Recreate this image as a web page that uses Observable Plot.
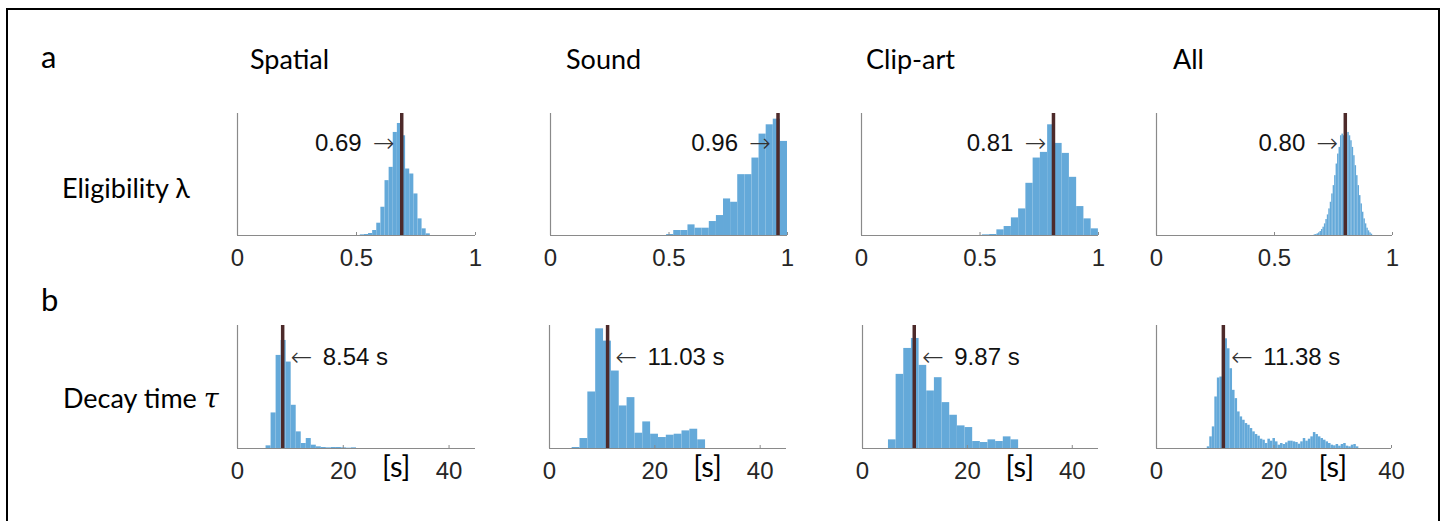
<!DOCTYPE html>
<html><head><meta charset="utf-8">
<script src="https://cdn.jsdelivr.net/npm/d3@7"></script>
<script src="https://cdn.jsdelivr.net/npm/@observablehq/plot@0.6"></script>
<style>
body{margin:0;background:#fff;width:1444px;height:521px;overflow:hidden;position:relative;}
#frame{position:absolute;left:6px;top:8px;width:1434px;height:600px;border:2px solid #000;box-sizing:border-box;}
.lbl{position:absolute;font-family:Lato,"Open Sans",sans-serif;color:#000;white-space:nowrap;line-height:1;transform:translateY(-50%);}
.panel{position:absolute;}
.panel svg{overflow:visible;}
</style></head><body>
<div id="frame"></div>
<div id="root"></div>
<script>
// ---- data ----
const conditions = ["Spatial", "Sound", "Clip-art", "All"];
const rowLabels = ["Eligibility λ", "Decay time τ"];
const panelLetters = ["a", "b"];
const lambdaTicks = [0, 0.5, 1];
const tauTicks = [0, 20, 40];
const lambdaEstimates = [0.69, 0.96, 0.81, 0.80];
const tauEstimates = [8.54, 11.03, 9.87, 11.38];

// histogram bins: start, bin width, heights (relative frequency, arbitrary units)
const lambdaSpatialStart = 0.516, lambdaSpatialWidth = 0.0173;
const lambdaSpatialCounts = [2,3,6,15,37,85,165,205,310,337,300,200,185,125,50,20,5];
const lambdaSoundStart = 0.49, lambdaSoundWidth = 0.03;
const lambdaSoundCounts = [3,15,15,32,22,22,42,60,110,100,183,183,233,305,333,350,283];
const lambdaClipStart = 0.51, lambdaClipWidth = 0.0306;
const lambdaClipCounts = [2,3,17,27,53,80,157,233,250,333,277,247,175,87,50,20];
const lambdaAllStart = 0.668, lambdaAllWidth = 0.0062;
const lambdaAllCounts = [2,3,5,8,12,18,25,35,48,62,80,100,125,150,180,215,245,265,300,305,
  300,310,305,310,300,285,265,240,210,180,150,120,95,70,50,35,22,14,8,4];
const tauSpatialStart = 5.4, tauSpatialWidth = 0.95;
const tauSpatialCounts = [8,107,280,325,260,130,50,15,30,10,5,3,2,3,3,2,1,2];
const tauSoundStart = 4.3, tauSoundWidth = 1.49;
const tauSoundCounts = [3,30,170,360,323,233,128,153,46,80,43,33,40,43,53,58,26];
const tauClipStart = 4.95, tauClipWidth = 1.46;
const tauClipCounts = [26,223,301,331,250,173,213,138,100,68,63,21,18,26,21,35,26];
const tauAllStart = 8.64, tauAllWidth = 0.43;
const tauAllCounts = [5,35,65,155,212,215,300,330,300,240,175,150,110,95,85,75,70,60,50,42,
  37,28,25,15,28,22,30,20,10,15,12,17,22,22,20,18,13,20,30,22,
  28,35,48,42,35,30,25,20,15,10,8,12,7,12,15,7,5,10,12,5];
const lambdaYTop = 367, tauYTop = 370;
const lambdaDomains = [[0,1],[0,1],[0,1],[0,1]];
const tauDomains = [[0,45],[0,45],[0,45],[0,40]];

// ---- layout ----
const colX = [[237,475],[550,787],[861,1098],[1156,1392]];
const colXb = [[237,475],[549,786],[862,1098],[1156,1391]];
const rowTop = [113, 325], rowBase = [235, 448];

const lambdaHists = [
  [lambdaSpatialStart, lambdaSpatialWidth, lambdaSpatialCounts],
  [lambdaSoundStart, lambdaSoundWidth, lambdaSoundCounts],
  [lambdaClipStart, lambdaClipWidth, lambdaClipCounts],
  [lambdaAllStart, lambdaAllWidth, lambdaAllCounts]];
const tauHists = [
  [tauSpatialStart, tauSpatialWidth, tauSpatialCounts],
  [tauSoundStart, tauSoundWidth, tauSoundCounts],
  [tauClipStart, tauClipWidth, tauClipCounts],
  [tauAllStart, tauAllWidth, tauAllCounts]];

const root = document.getElementById("root");
function label(text, x, cy, size, html) {
  const d = document.createElement("div");
  d.className = "lbl";
  if (html) d.innerHTML = text; else d.textContent = text;
  d.style.left = x + "px"; d.style.top = cy + "px"; d.style.fontSize = size + "px";
  root.appendChild(d);
}
label(panelLetters[0], 41, 56, 31);
label(panelLetters[1], 41, 299, 31);
const titleX = [250, 566, 866, 1173];
conditions.forEach((c, i) => label(c, titleX[i], 58, 27));
label(rowLabels[0], 62, 187, 27);
label("Decay time <i style=\"font-family:'DejaVu Serif'\">τ</i>", 63, 398, 27, true);

function panel(row, i) {
  const [start, w, counts] = row === 0 ? lambdaHists[i] : tauHists[i];
  const domain = row === 0 ? lambdaDomains[i] : tauDomains[i];
  const ticks = row === 0 ? lambdaTicks : tauTicks;
  const value = row === 0 ? lambdaEstimates[i] : tauEstimates[i];
  const yTop = row === 0 ? lambdaYTop : tauYTop;
  const [x0, x1] = row === 0 ? colX[i] : colXb[i];
  const top = rowTop[row], base = rowBase[row];
  const ML = 20, MR = 30, MT = 30, MB = 50;
  const bins = counts.map((c, k) => ({a: start + k * w, b: start + (k + 1) * w, c}));
  const px = yTop / (base - top);
  const dyText = row === 0 ? 20 : 22;
  const marks = [
    Plot.rect(bins, {x1: "a", x2: "b", y1: () => 0, y2: "c", fill: "#64a9d9"}),
    Plot.ruleY([0], {stroke: "#8a8a8a", strokeWidth: 1.2}),
    Plot.ruleX([domain[0]], {stroke: "#8a8a8a", strokeWidth: 1.2}),
    Plot.ruleX(ticks.filter(t => t > domain[0] && t <= domain[1]), {y1: () => 0, y2: () => 3 * px, stroke: "#8a8a8a"}),
    Plot.ruleX([value], {stroke: "#4d2a2a", strokeWidth: 3.5}),
    // number
    Plot.text([value], {
      x: d => d, frameAnchor: "top", dy: dyText,
      text: d => row === 0 ? d.toFixed(2) : `${d.toFixed(2)} s`,
      textAnchor: row === 0 ? "end" : "start", dx: row === 0 ? -40 : 40,
      fontSize: 24, fill: "#111"
    }),
    // arrow
    Plot.text([value], {
      x: d => d, frameAnchor: "top", dy: dyText,
      text: () => row === 0 ? "→" : "←",
      textAnchor: row === 0 ? "end" : "start", dx: row === 0 ? -7 : 8,
      fontSize: 26, fontFamily: "'DejaVu Sans'", fontWeight: 200, fill: "#333"
    })
  ];
  if (row === 1) marks.push(Plot.text([30], {x: d => d, text: () => "[s]", frameAnchor: "bottom", dy: 28, fontSize: 29, fontFamily: "Lato", fill: "#000"}));
  const svg = Plot.plot({
    width: x1 - x0 + ML + MR, height: base - top + MT + MB,
    marginLeft: ML, marginRight: MR, marginTop: MT, marginBottom: MB,
    x: {domain, ticks, tickSize: 0, tickPadding: 13, tickFormat: d => String(d), label: null},
    y: {domain: [0, yTop], axis: null},
    style: {fontFamily: "'Liberation Sans', Arial, sans-serif", fontSize: "24px", color: "#262626", background: "transparent", overflow: "visible"},
    marks
  });
  const wrap = document.createElement("div");
  wrap.className = "panel";
  wrap.style.left = (x0 - ML) + "px";
  wrap.style.top = (top - MT) + "px";
  wrap.appendChild(svg);
  root.appendChild(wrap);
}
for (let r = 0; r < 2; r++) for (let i = 0; i < 4; i++) panel(r, i);
</script>
</body></html>
